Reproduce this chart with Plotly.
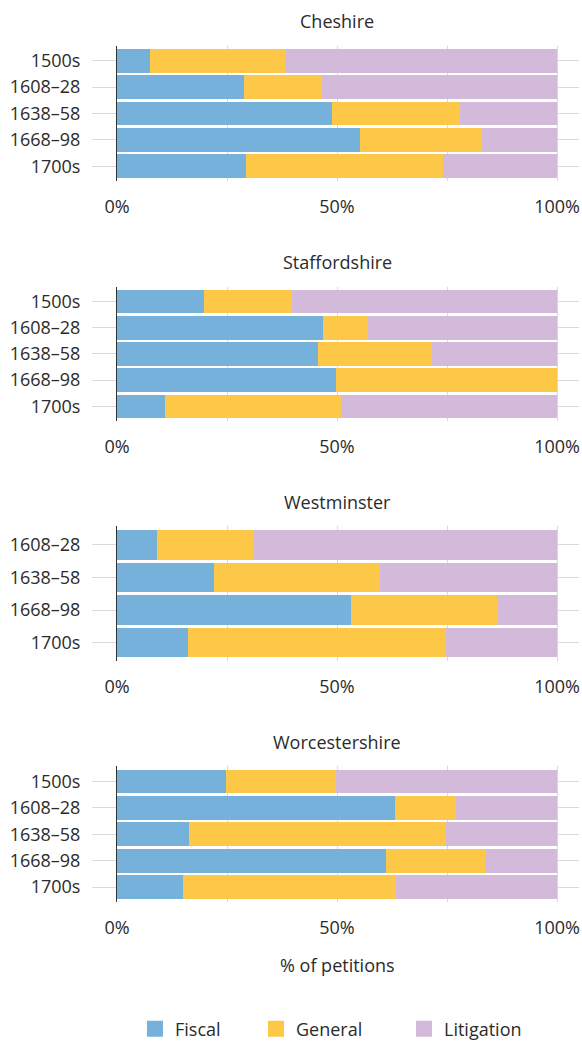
import plotly.graph_objects as go

counties = ["Cheshire", "Staffordshire", "Westminster", "Worcestershire"]

periods_cheshire = ["1500s", "1608–28", "1638–58", "1668–98", "1700s"]
fiscal_cheshire = [7.4, 28.9, 48.8, 55.3, 29.4]
general_cheshire = [30.7, 17.7, 29.2, 27.7, 44.6]
litigation_cheshire = [61.9, 53.4, 22.0, 17.0, 26.0]

periods_stafford = ["1500s", "1608–28", "1638–58", "1668–98", "1700s"]
fiscal_stafford = [19.8, 46.8, 45.7, 49.8, 11.0]
general_stafford = [20.0, 10.2, 25.9, 50.2, 39.9]
litigation_stafford = [60.2, 43.0, 28.4, 0.0, 49.1]

periods_westminster = ["1608–28", "1638–58", "1668–98", "1700s"]
fiscal_westminster = [9.1, 22.1, 53.2, 16.2]
general_westminster = [22.0, 37.6, 33.1, 58.5]
litigation_westminster = [68.9, 40.3, 13.7, 25.3]

periods_worcester = ["1500s", "1608–28", "1638–58", "1668–98", "1700s"]
fiscal_worcester = [24.8, 63.1, 16.4, 61.2, 15.0]
general_worcester = [25.0, 13.9, 58.3, 22.5, 48.5]
litigation_worcester = [50.2, 23.0, 25.3, 16.3, 36.5]

series_names = ["Fiscal", "General", "Litigation"]
colors = ["#76b1dc", "#fdc748", "#d3b9da"]

x_tickvals = [0, 25, 50, 75, 100]
x_ticktext = ["0%", "", "50%", "", "100%"]
axis_title = "% of petitions"

panels = [
    (periods_cheshire, [fiscal_cheshire, general_cheshire, litigation_cheshire]),
    (periods_stafford, [fiscal_stafford, general_stafford, litigation_stafford]),
    (periods_westminster, [fiscal_westminster, general_westminster, litigation_westminster]),
    (periods_worcester, [fiscal_worcester, general_worcester, litigation_worcester]),
]

W, H = 582, 1048
FONT = "Open Sans"
FS = 18
TXT = "#2b2b2b"
GRID = "#d9d9d9"

plot_px = [(46, 183), (289, 425), (531, 667), (773, 910)]
left_px, right_margin = 117, 3
plot_w = W - left_px - right_margin
xmax = 105

legend_ids = ["legend", "legend2", "legend3"]
legend_left_px = [135, 256, 404]

fig = go.Figure()
layout = {}
for i, (periods, vals) in enumerate(panels):
    n = "" if i == 0 else str(i + 1)
    for j, name in enumerate(series_names):
        fig.add_trace(go.Bar(
            x=vals[j], y=periods, orientation="h", name=name,
            marker=dict(color=colors[j], line=dict(width=0)),
            xaxis="x" + n, yaxis="y" + n,
            showlegend=False, legendgroup=name,
        ))
    top, bot = plot_px[i]
    ncat = len(periods)
    layout["xaxis" + n] = dict(
        domain=[0, 1], range=[0, xmax], anchor="y" + n,
        tickvals=x_tickvals, ticktext=x_ticktext,
        showgrid=True, gridcolor=GRID, gridwidth=1, zeroline=False,
        ticks="", ticklabelstandoff=13,
        tickfont=dict(family=FONT, size=FS, color=TXT),
        fixedrange=True,
    )
    layout["yaxis" + n] = dict(
        domain=[1 - bot / H, 1 - top / H], anchor="x" + n,
        type="category", range=[ncat - 1 + 0.57, -0.57],
        showgrid=True, gridcolor=GRID, gridwidth=1, zeroline=False,
        ticks="outside", ticklen=24, tickcolor=GRID, tickwidth=1,
        ticklabelstandoff=8,
        showline=True, linecolor="#333333", linewidth=1,
        tickfont=dict(family=FONT, size=FS, color=TXT),
        fixedrange=True,
    )

# legend entries (larger square swatches), grouped with the bar series
for j, name in enumerate(series_names):
    fig.add_trace(go.Scatter(
        x=[None], y=[None], mode="markers", name=name,
        marker=dict(symbol="square", size=16, color=colors[j], line=dict(width=0)),
        legendgroup=name, legend=legend_ids[j], showlegend=True,
        xaxis="x4", yaxis="y4", hoverinfo="skip",
    ))

annotations = []
title_x = (337 - left_px) / plot_w
for i, c in enumerate(counties):
    top, bot = plot_px[i]
    annotations.append(dict(
        text=c, xref="paper", yref="paper", x=title_x, y=1 - (top - 25) / H,
        xanchor="center", yanchor="middle", showarrow=False,
        font=dict(family=FONT, size=FS, color=TXT),
    ))
annotations.append(dict(
    text=axis_title, xref="paper", yref="paper", x=title_x, y=1 - 973 / H,
    xanchor="center", yanchor="middle", showarrow=False,
    font=dict(family=FONT, size=FS, color=TXT),
))

for k, lid in enumerate(legend_ids):
    layout[lid] = dict(
        orientation="h", x=(legend_left_px[k] - left_px) / plot_w, xanchor="left",
        y=1 - 1038 / H, yanchor="middle",
        font=dict(family=FONT, size=FS, color=TXT),
        bgcolor="rgba(0,0,0,0)", borderwidth=0, itemsizing="trace",
    )

fig.update_layout(
    width=W, height=H,
    margin=dict(l=left_px, r=right_margin, t=0, b=0),
    paper_bgcolor="white", plot_bgcolor="white",
    barmode="stack", bargap=0.1,
    showlegend=True,
    annotations=annotations,
    **layout,
)

fig.write_html(
    "out.html",
    config={"displayModeBar": False},
    post_script="document.body.style.margin='0';document.body.style.overflow='hidden';",
)
